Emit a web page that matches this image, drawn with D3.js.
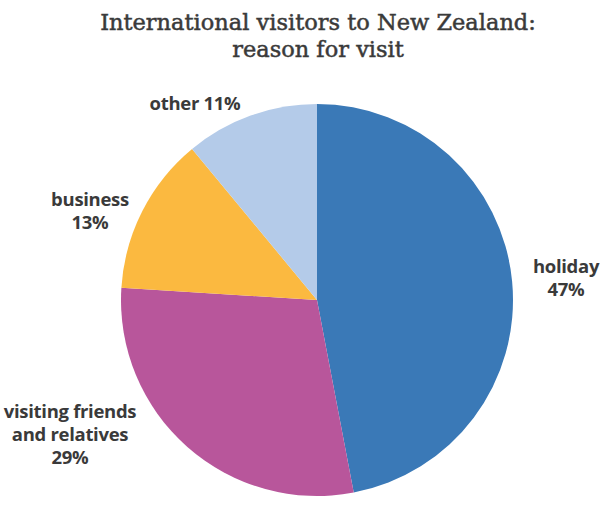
<!DOCTYPE html>
<html><head><meta charset="utf-8">
<script src="https://cdn.jsdelivr.net/npm/d3@7"></script>
<style>body{margin:0;background:#fff}</style>
</head><body>
<svg id="chart" width="616" height="510"></svg>
<script>
const categories = ["holiday", "visiting friends and relatives", "business", "other"];
const values = [47, 29, 13, 11];
const colors = ["#3a79b7", "#b8569b", "#fbb940", "#b4cbe9"];
const labelLines = [["holiday", "47%"], ["visiting friends", "and relatives", "29%"], ["business", "13%"], ["other 11%"]];
const titleLines = ["International visitors to New Zealand:", "reason for visit"];

const svg = d3.select("#chart");
const cx = 317, cy = 300, r = 196;

svg.append("g").selectAll("text").data(titleLines).join("text")
  .attr("x", 318).attr("y", (d, i) => 30 + i * 27)
  .attr("text-anchor", "middle")
  .attr("font-family", "DejaVu Serif, serif")
  .attr("font-size", 22.5)
  .attr("fill", "#3a3a3a").attr("stroke", "#3a3a3a").attr("stroke-width", 0.5)
  .text(d => d);

const data = categories.map((c, i) => ({cat: c, value: values[i], color: colors[i], lines: labelLines[i]}));
const pie = d3.pie().value(d => d.value).sort(null);
const arc = d3.arc().innerRadius(0).outerRadius(r);
const arcs = pie(data);

const g = svg.append("g").attr("transform", `translate(${cx},${cy})`);
g.selectAll("path").data(arcs).join("path")
  .attr("d", arc).attr("fill", d => d.data.color);

// label positions (relative to centre)
const labelPos = [[249, -27], [-247, 118], [-227, -94], [-122, -190]];
const lg = g.append("g");
arcs.forEach((a, i) => {
  const t = lg.append("text")
    .attr("text-anchor", "middle")
    .attr("font-family", "Open Sans, sans-serif")
    .attr("font-size", 18.5).attr("font-weight", "bold")
    .attr("letter-spacing", -0.3)
    .attr("fill", "#3a3a3a");
  a.data.lines.forEach((line, j) => {
    t.append("tspan").attr("x", labelPos[i][0]).attr("y", labelPos[i][1] + j * 23).text(line);
  });
});
</script>
</body></html>
